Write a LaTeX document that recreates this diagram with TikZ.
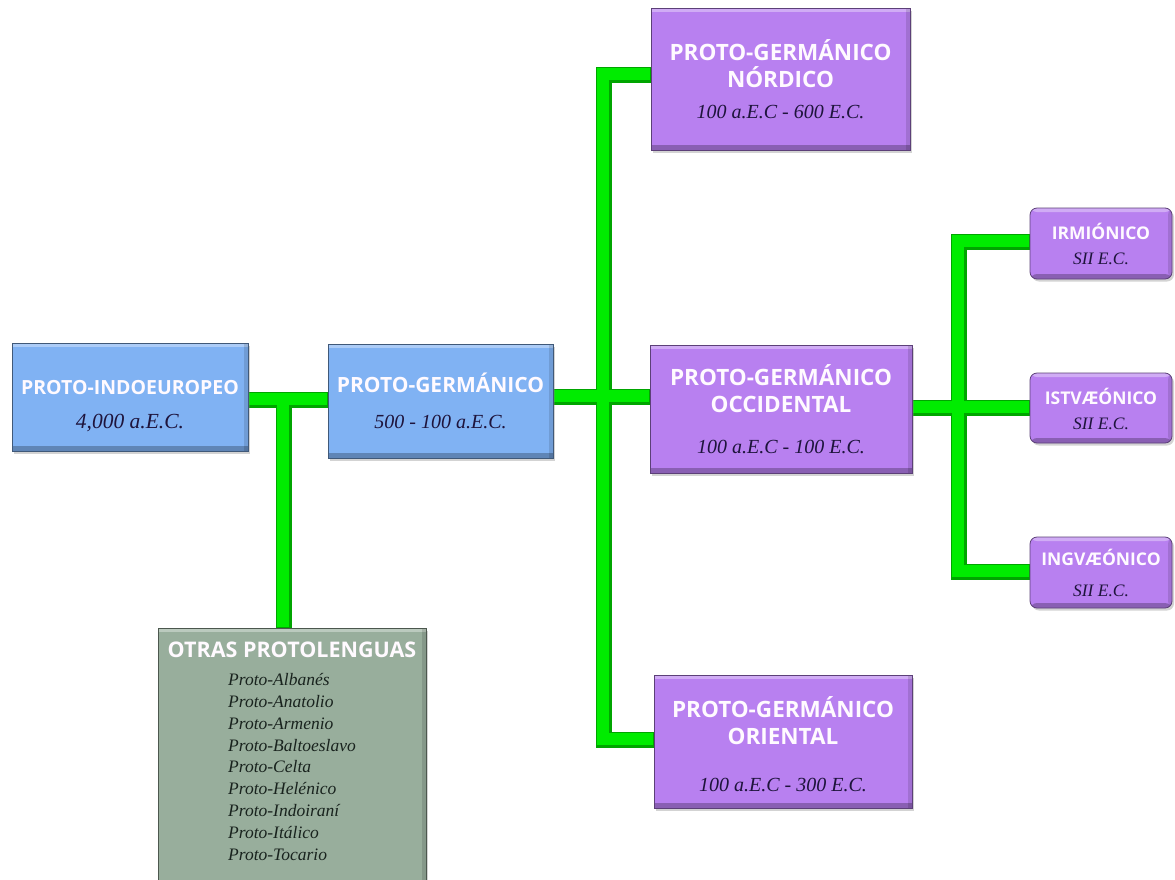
\documentclass[tikz,border=0pt]{standalone}
\usepackage{fontspec}
\setmainfont{Liberation Serif}
\newfontfamily\ttlfont{Open Sans}
\usetikzlibrary{shadows,backgrounds}
\definecolor{bluebox}{RGB}{128,178,243}
\definecolor{purplebox}{RGB}{184,128,240}
\definecolor{graybox}{RGB}{152,174,156}
\definecolor{gbright}{RGB}{0,236,0}
\definecolor{gdark}{RGB}{0,165,0}
\definecolor{datecol}{RGB}{30,20,60}
\definecolor{itemcol}{RGB}{25,35,30}
\definecolor{titlecol}{RGB}{255,250,255}
\newcommand\TT[1]{{\ttlfont\bfseries\color{titlecol}#1}}
\newcommand\DD[1]{{\itshape\color{datecol}#1}}
\tikzset{
  box/.style={draw=#1!50!black, line width=0.8pt, fill=#1, align=center, inner sep=0pt,
    drop shadow={opacity=0.35, shadow xshift=2pt, shadow yshift=-2.5pt},
    path picture={
      \fill[white, opacity=0.35] (path picture bounding box.north west) rectangle ([yshift=-4pt]path picture bounding box.north east);
      \fill[black, opacity=0.25] ([yshift=5pt]path picture bounding box.south west) rectangle (path picture bounding box.south east);
      \fill[black, opacity=0.12] ([xshift=-4pt]path picture bounding box.south east) rectangle (path picture bounding box.north east);
    }},
  bigfont/.style={font=\fontsize{19.5}{28}\selectfont},
  purfont/.style={font=\fontsize{22.5}{27}\selectfont},
  smallfont/.style={font=\fontsize{17.5}{25}\selectfont},
  cdark/.style={line width=16pt, draw=gdark, line join=miter, line cap=butt},
  cbright/.style={line width=12pt, draw=gbright, line join=miter, line cap=butt,
    transform canvas={xshift=-1pt, yshift=1pt}},
}
\newcommand\DP[1]{{\fontsize{20}{27}\selectfont\DD{#1}}}
\newcommand\conns[1]{%
  \draw[#1] (pie.east |- j1) -- (pg.west |- j1);
  \draw[#1] (j1) -- (j1 |- otras.north);
  \draw[#1] (pg.east |- j2) -- (occ.west |- j2);
  \draw[#1] (nord.west |- j2a) -- (j2a) -- (j2b) -- (ori.west |- j2b);
  \draw[#1] (occ.east |- j3) -- (ist.west |- j3);
  \draw[#1] (irm.west |- j3a) -- (j3a) -- (j3b) -- (ing.west |- j3b);
}
\begin{document}
\begin{tikzpicture}[x=1pt, y=-1pt]
\useasboundingbox (0,0) rectangle (1175,879);
% nodes
\node[box=bluebox, bigfont, minimum width=236pt, minimum height=108pt] (pie) at (130,397)
  {\rule{0pt}{33pt}\TT{PROTO-INDOEUROPEO}\\[6pt]{\fontsize{21.5}{28}\selectfont\DD{4,000 a.E.C.}}};
\node[box=bluebox, bigfont, minimum width=225pt, minimum height=114pt] (pg) at (440.5,401)
  {\rule{0pt}{20pt}{\fontsize{21}{28}\selectfont\TT{PROTO-GERMÁNICO}}\\[8pt]{\fontsize{20}{28}\selectfont\DD{500 - 100 a.E.C.}}};
\node[box=graybox, minimum width=268pt, minimum height=262pt, anchor=north] (otras) at (292,628) {};
\node[anchor=north, align=center, inner sep=0pt] (otrastxt) at (292,642)
  {\fontsize{21.5}{24}\selectfont\TT{OTRAS PROTOLENGUAS}\\[11pt]
   {\fontsize{17.5}{21.9}\selectfont\itshape\color{itemcol}%
   \begin{tabular}{@{}l@{}}
   Proto-Albanés\\ Proto-Anatolio\\ Proto-Armenio\\ Proto-Baltoeslavo\\ Proto-Celta\\
   Proto-Helénico\\ Proto-Indoiraní\\ Proto-Itálico\\ Proto-Tocario
   \end{tabular}}};
\node[box=purplebox, purfont, minimum width=259pt, minimum height=142pt] (nord) at (780.5,79)
  {\TT{PROTO-GERMÁNICO}\\\TT{NÓRDICO}\\[4pt]\DP{100 a.E.C - 600 E.C.}};
\node[box=purplebox, purfont, minimum width=262pt, minimum height=128pt] (occ) at (781,409)
  {\TT{PROTO-GERMÁNICO}\\\TT{OCCIDENTAL}\\[14pt]\DP{100 a.E.C - 100 E.C.}};
\node[box=purplebox, purfont, minimum width=258pt, minimum height=133pt] (ori) at (783,741.5)
  {\rule{0pt}{26pt}\TT{PROTO-GERMÁNICO}\\\TT{ORIENTAL}\\[20pt]\DP{100 a.E.C - 300 E.C.}};
\node[box=purplebox, smallfont, rounded corners=7pt, minimum width=142pt, minimum height=71pt] (irm) at (1101,243.5)
  {\TT{IRMIÓNICO}\\\DD{SII E.C.}};
\node[box=purplebox, smallfont, rounded corners=7pt, minimum width=142pt, minimum height=70pt] (ist) at (1101,408)
  {\rule{0pt}{18pt}\TT{ISTVÆÓNICO}\\\DD{SII E.C.}};
\node[box=purplebox, smallfont, rounded corners=7pt, minimum width=142pt, minimum height=71pt] (ing) at (1101,572.5)
  {\rule{0pt}{17pt}\TT{INGVÆÓNICO}\\[6pt]\DD{SII E.C.}};
% junction points
\coordinate (j1) at (284,400);
\coordinate (j2) at (604,397);
\coordinate (j2a) at (604,75);
\coordinate (j2b) at (604,740);
\coordinate (j3) at (959,408);
\coordinate (j3a) at (959,242);
\coordinate (j3b) at (959,572);
\begin{scope}[on background layer]
  \conns{cdark}
  \conns{cbright}
\end{scope}
\end{tikzpicture}
\end{document}
